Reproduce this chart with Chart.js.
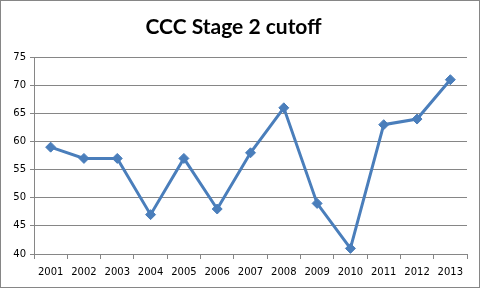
<!DOCTYPE html>
<html>
<head>
<meta charset="utf-8">
<script src="https://cdn.jsdelivr.net/npm/chart.js@4/dist/chart.umd.min.js"></script>
<style>
  html, body { margin: 0; padding: 0; background: #fff; }
  #wrap { position: relative; width: 481px; height: 289px; }
</style>
</head>
<body>
<div id="wrap"><canvas id="chart" width="481" height="289"></canvas></div>
<script>
var years = ['2001', '2002', '2003', '2004', '2005', '2006', '2007', '2008', '2009', '2010', '2011', '2012', '2013'];
var cutoff = [59, 57, 57, 47, 57, 48, 58, 66, 49, 41, 63, 64, 71];
var yMin = 40, yMax = 75, yStep = 5;

var lineBlue = '#4a7ebb';
var gridGray = '#868686';

// outer frame like the excel chart border
var frame = {
  id: 'frame',
  afterDraw: function(chart) {
    var ctx = chart.ctx;
    ctx.save();
    ctx.strokeStyle = gridGray;
    ctx.lineWidth = 1;
    ctx.strokeRect(0.5, 0.5, 479, 287);
    ctx.restore();
  }
};

new Chart(document.getElementById('chart'), {
  type: 'line',
  data: {
    labels: years,
    datasets: [{
      label: 'CCC Stage 2 cutoff',
      data: cutoff,
      fill: false,
      borderColor: lineBlue,
      backgroundColor: lineBlue,
      borderWidth: 3,
      tension: 0,
      pointStyle: 'rectRot',
      pointRadius: 5,
      pointBorderWidth: 1,
      pointBorderColor: lineBlue,
      pointBackgroundColor: lineBlue
    }]
  },
  options: {
    responsive: false,
    animation: false,
    layout: { padding: { left: 0, right: 14, top: 0, bottom: 0 } },
    plugins: {
      legend: { display: false },
      tooltip: { enabled: false },
      title: {
        display: true,
        text: 'CCC Stage 2 cutoff',
        color: '#000',
        font: { family: 'Lato', size: 21, weight: 'bold' },
        padding: { top: 15, bottom: 17 }
      }
    },
    scales: {
      x: {
        offset: true,
        grid: {
          offset: true,
          drawOnChartArea: false,
          drawTicks: true,
          tickLength: 5,
          color: gridGray
        },
        border: { color: gridGray, width: 1 },
        ticks: {
          color: '#000',
          font: { family: 'DejaVu Sans', size: 10 },
          padding: 7,
          maxRotation: 0,
          autoSkip: false
        },
        afterFit: function(scale) { scale.height = 35; }
      },
      y: {
        min: yMin,
        max: yMax,
        grid: { color: gridGray, tickLength: 4 },
        border: { color: gridGray, width: 1 },
        ticks: {
          stepSize: yStep,
          color: '#000',
          font: { family: 'DejaVu Sans', size: 10 },
          padding: 4
        },
        afterFit: function(scale) { scale.width = 34; }
      }
    }
  },
  plugins: [frame]
});
</script>
</body>
</html>
